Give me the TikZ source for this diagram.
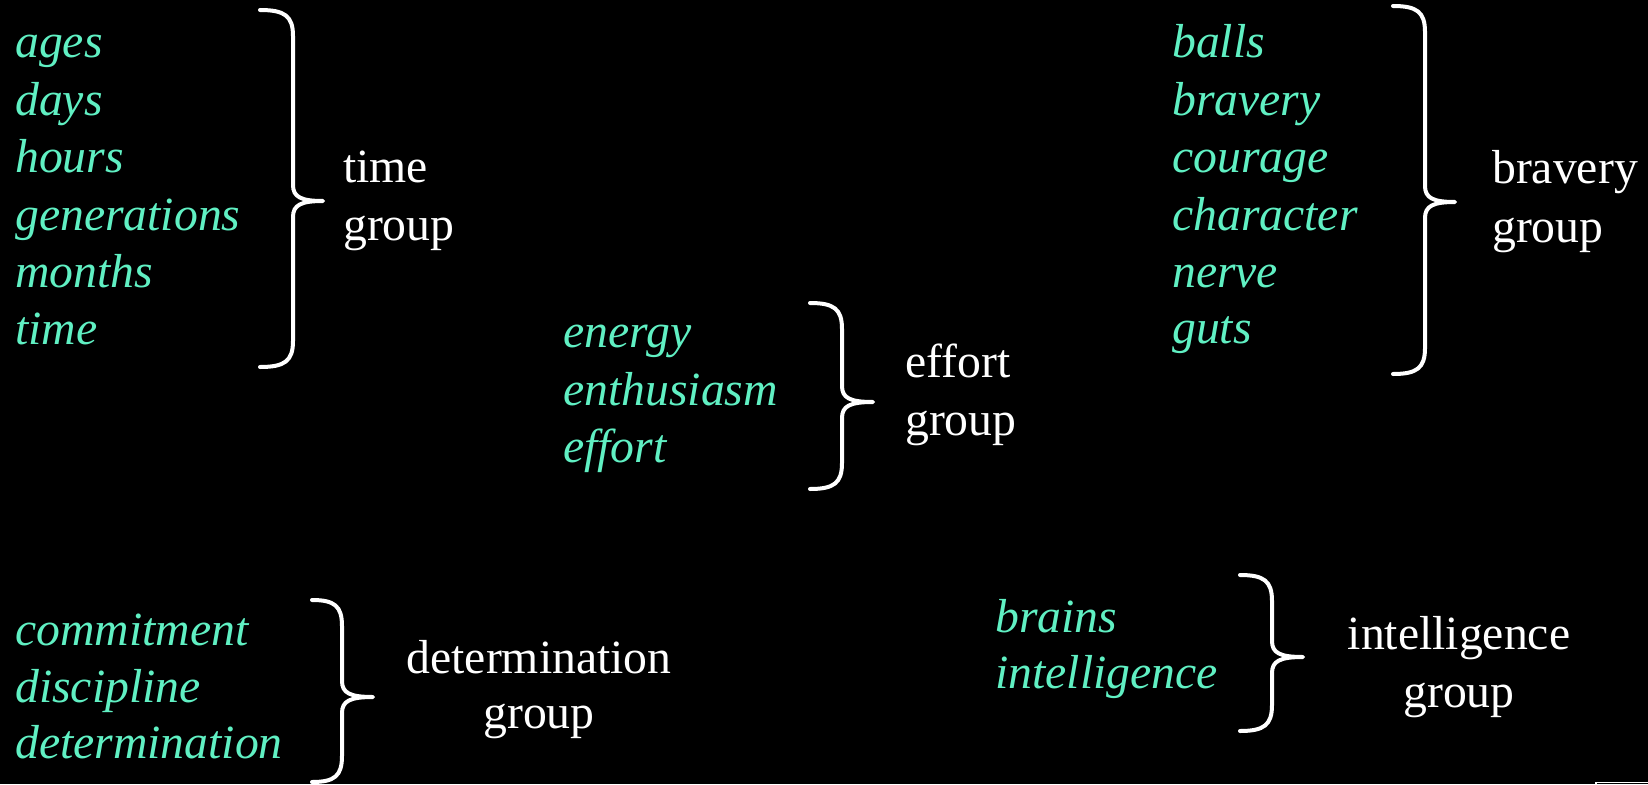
\documentclass[tikz,border=0pt]{standalone}
\usepackage{fontspec}
\setmainfont{Liberation Serif}
\definecolor{wordgreen}{RGB}{96,240,195}
\tikzset{
  word/.style={anchor=base west, inner sep=0pt, text=wordgreen, font=\fontsize{47.7}{57}\selectfont\itshape},
  label/.style={anchor=base west, inner sep=0pt, text=white, font=\fontsize{47.7}{57}\selectfont},
  clabel/.style={anchor=base, inner sep=0pt, text=white, font=\fontsize{47.7}{57}\selectfont},
  bracket/.style={draw=white, line width=4pt, line cap=round, line join=round}
}
% brace: #1 left x, #2 top y, #3 tip y, #4 bottom y, #5 spine offset, #6 tip offset
\newcommand{\curlybrace}[6]{%
  \draw[bracket] (#1,#2) .. controls ({#1+0.75*#5},#2) and ({#1+#5},{#2+6}) .. ({#1+#5},{#2+26})
    -- ({#1+#5},{#3-16}) .. controls ({#1+#5},{#3-4}) and ({#1+#5+8},#3) .. ({#1+#6},#3)
    .. controls ({#1+#5+8},#3) and ({#1+#5},{#3+4}) .. ({#1+#5},{#3+16})
    -- ({#1+#5},{#4-26}) .. controls ({#1+#5},{#4-6}) and ({#1+0.75*#5},#4) .. (#1,#4);}
\begin{document}
\begin{tikzpicture}[x=1pt,y=-1pt]
\fill[black] (0,0) rectangle (1648,784);
\useasboundingbox (0,0) rectangle (1648,784);

% time group
\node[word] (ages) at (15,58) {ages};
\node[word] (days) at (15,115) {days};
\node[word] (hours) at (15,172) {hours};
\node[word] (generations) at (15,230) {generations};
\node[word] (months) at (15,287) {months};
\node[word] (timew) at (15,344) {time};
\curlybrace{260}{10}{201}{367}{33}{63}
\node[label] (timeL1) at (343,182) {time};
\node[label] (timeL2) at (343,240) {group};

% bravery group
\node[word] (balls) at (1172,57) {balls};
\node[word] (braveryw) at (1172,115) {bravery};
\node[word] (courage) at (1172,172) {courage};
\node[word] (character) at (1172,230) {character};
\node[word] (nerve) at (1172,287) {nerve};
\node[word] (guts) at (1172,343) {guts};
\curlybrace{1393}{6}{202}{374}{32}{62}
\node[label] (bravL1) at (1492,183) {bravery};
\node[label] (bravL2) at (1492,242) {group};

% effort group
\node[word] (energy) at (563,347) {energy};
\node[word] (enthusiasm) at (563,405) {enthusiasm};
\node[word] (effortw) at (563,462) {effort};
\curlybrace{810}{303}{402}{489}{32}{63}
\node[label] (effL1) at (905,377) {effort};
\node[label] (effL2) at (905,435) {group};

% determination group
\node[word] (commitment) at (15,645) {commitment};
\node[word] (discipline) at (15,702) {discipline};
\node[word] (determinationw) at (15,758) {determination};
\curlybrace{312}{600}{697}{782}{30}{61}
\node[clabel] (detL1) at (539,673) {determination};
\node[clabel] (detL2) at (539,728) {group};

% intelligence group
\node[word] (brains) at (995,632) {brains};
\node[word] (intelligencew) at (995,688) {intelligence};
\curlybrace{1240}{575}{657}{731}{32}{63}
\node[clabel] (intL1) at (1459,649) {intelligence};
\node[clabel] (intL2) at (1459,707) {group};

% partial box at bottom right corner
\draw[white, line width=1.5pt] (1648,782.5) -- (1596,782.5) -- (1596,786);
\end{tikzpicture}
\end{document}
